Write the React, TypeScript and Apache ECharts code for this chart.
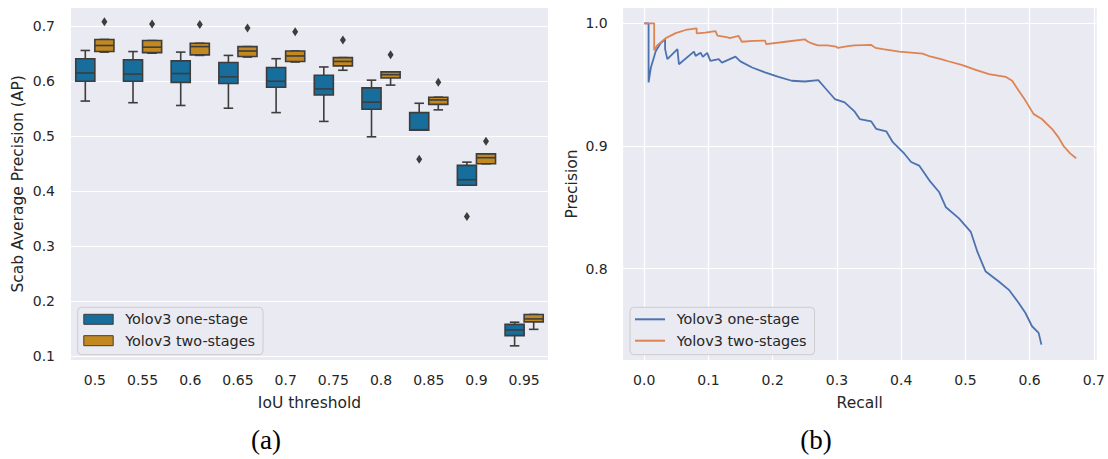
import React, { useEffect, useRef } from "react";
import * as echarts from "echarts";

// ---------- data ----------
const iouThresholds = ["0.5", "0.55", "0.6", "0.65", "0.7", "0.75", "0.8", "0.85", "0.9", "0.95"];

// [min, q1, median, q3, max] per IoU threshold
const oneStageBoxes = [
  [0.564, 0.600, 0.615, 0.641, 0.656],
  [0.561, 0.600, 0.613, 0.639, 0.654],
  [0.556, 0.598, 0.614, 0.637, 0.653],
  [0.551, 0.596, 0.608, 0.634, 0.647],
  [0.543, 0.589, 0.600, 0.625, 0.641],
  [0.527, 0.575, 0.586, 0.611, 0.626],
  [0.499, 0.549, 0.562, 0.588, 0.602],
  [0.511, 0.511, 0.512, 0.543, 0.560],
  [0.411, 0.411, 0.421, 0.447, 0.453],
  [0.119, 0.1375, 0.148, 0.158, 0.162],
];
const twoStageBoxes = [
  [0.653, 0.654, 0.665, 0.676, 0.676],
  [0.651, 0.652, 0.662, 0.674, 0.674],
  [0.647, 0.648, 0.663, 0.669, 0.669],
  [0.644, 0.645, 0.655, 0.663, 0.663],
  [0.635, 0.636, 0.646, 0.655, 0.655],
  [0.620, 0.628, 0.636, 0.643, 0.643],
  [0.593, 0.606, 0.612, 0.617, 0.617],
  [0.548, 0.558, 0.566, 0.571, 0.571],
  [0.450, 0.450, 0.461, 0.468, 0.468],
  [0.149, 0.1625, 0.168, 0.176, 0.176],
];
// [threshold index, AP]
const oneStageOutliers = [
  [7, 0.458],
  [8, 0.354],
];
const twoStageOutliers = [
  [0, 0.708],
  [1, 0.704],
  [2, 0.703],
  [3, 0.697],
  [4, 0.690],
  [5, 0.675],
  [6, 0.648],
  [7, 0.598],
  [8, 0.491],
];

// [recall, precision]
const oneStagePR = [
  [0, 1.0], [0.0068, 1.0], [0.0068, 0.9518], [0.0104, 0.964], [0.018, 0.9775], [0.0258, 0.984],
  [0.0325, 0.987], [0.0325, 0.979], [0.036, 0.9708], [0.0517, 0.979], [0.054, 0.9667],
  [0.0774, 0.977], [0.08, 0.9735], [0.0878, 0.976], [0.0913, 0.9727], [0.098, 0.976],
  [0.103, 0.9694], [0.116, 0.9708], [0.121, 0.968], [0.142, 0.9729], [0.1497, 0.969],
  [0.168, 0.964], [0.188, 0.960], [0.209, 0.9564], [0.2297, 0.9532], [0.25, 0.9526],
  [0.271, 0.9537], [0.281, 0.9477], [0.2967, 0.9383], [0.312, 0.9356], [0.3277, 0.928],
  [0.3355, 0.922], [0.3535, 0.920], [0.361, 0.914], [0.3768, 0.912], [0.387, 0.9031],
  [0.405, 0.8937], [0.4155, 0.8869], [0.428, 0.884], [0.4438, 0.872], [0.459, 0.8625],
  [0.4697, 0.850], [0.49, 0.841], [0.5084, 0.830], [0.5186, 0.8138], [0.526, 0.8044],
  [0.5316, 0.7976], [0.552, 0.7895], [0.5677, 0.7827], [0.583, 0.772], [0.5935, 0.7638],
  [0.6037, 0.753], [0.614, 0.7476], [0.6183, 0.738],
];
const twoStagePR = [
  [0, 1.0], [0.0155, 1.0], [0.0155, 0.978], [0.02, 0.982], [0.027, 0.985], [0.0336, 0.988],
  [0.049, 0.992], [0.0645, 0.9946], [0.0816, 0.996], [0.0816, 0.9919], [0.095, 0.9925],
  [0.111, 0.9937], [0.114, 0.990], [0.13, 0.9885], [0.133, 0.988], [0.147, 0.9897],
  [0.152, 0.985], [0.17, 0.9858], [0.188, 0.986], [0.19, 0.983], [0.22, 0.985],
  [0.25, 0.987], [0.255, 0.985], [0.262, 0.9835], [0.27, 0.982], [0.285, 0.982],
  [0.299, 0.981], [0.301, 0.980], [0.32, 0.9816], [0.3277, 0.982], [0.3535, 0.9824],
  [0.36, 0.980], [0.3715, 0.979], [0.397, 0.977], [0.4334, 0.9753], [0.445, 0.973],
  [0.459, 0.9713], [0.4748, 0.9689], [0.4954, 0.966], [0.516, 0.962], [0.5367, 0.9586],
  [0.5625, 0.9564], [0.5728, 0.9532], [0.5831, 0.945], [0.5935, 0.937], [0.6063, 0.926],
  [0.619, 0.922], [0.6347, 0.914], [0.645, 0.907], [0.6528, 0.900], [0.663, 0.894],
  [0.6724, 0.890],
];

const legendLabels: Record<string, string> = {
  boxOne: "Yolov3 one-stage",
  boxTwo: "Yolov3 two-stages",
  prOne: "Yolov3 one-stage",
  prTwo: "Yolov3 two-stages",
};

// ---------- style ----------
const BG = "#eaeaf2";
const EDGE = "#3d3d3d";
const BOX_BLUE = "#176d9b";
const BOX_ORANGE = "#c38920";
const LINE_BLUE = "#4c72b0";
const LINE_ORANGE = "#dd8452";
const TEXT = "#262626";
const FONT = "DejaVu Sans";

function boxRenderer(side: number, fill: string) {
  return (params: any, api: any) => {
    const idx = api.value(0);
    const band = api.coord([1, 0])[0] - api.coord([0, 0])[0];
    const w = band * 0.4;
    const cx = api.coord([idx, 0])[0] + (side * w) / 2;
    const y = (v: number) => api.coord([idx, v])[1];
    const yMin = y(api.value(1));
    const yQ1 = y(api.value(2));
    const yMed = y(api.value(3));
    const yQ3 = y(api.value(4));
    const yMax = y(api.value(5));
    const ls = { stroke: EDGE, lineWidth: 1.6 };
    return {
      type: "group",
      children: [
        { type: "line", shape: { x1: cx, y1: yQ3, x2: cx, y2: yMax }, style: ls },
        { type: "line", shape: { x1: cx, y1: yQ1, x2: cx, y2: yMin }, style: ls },
        { type: "line", shape: { x1: cx - w / 4, y1: yMax, x2: cx + w / 4, y2: yMax }, style: ls },
        { type: "line", shape: { x1: cx - w / 4, y1: yMin, x2: cx + w / 4, y2: yMin }, style: ls },
        {
          type: "rect",
          shape: { x: cx - w / 2, y: yQ3, width: w, height: yQ1 - yQ3 },
          style: { fill, stroke: EDGE, lineWidth: 1.6 },
        },
        { type: "line", shape: { x1: cx - w / 2, y1: yMed, x2: cx + w / 2, y2: yMed }, style: ls },
      ],
    };
  };
}

function outlierRenderer(side: number) {
  return (params: any, api: any) => {
    const idx = api.value(0);
    const band = api.coord([1, 0])[0] - api.coord([0, 0])[0];
    const w = band * 0.4;
    const p = api.coord([idx, api.value(1)]);
    const cx = p[0] + (side * w) / 2;
    const cy = p[1];
    return {
      type: "polygon",
      shape: { points: [[cx, cy - 4.5], [cx + 3, cy], [cx, cy + 4.5], [cx - 3, cy]] },
      style: { fill: EDGE },
    };
  };
}

export default function App() {
  const ref = useRef<HTMLDivElement>(null);
  useEffect(() => {
    if (!ref.current) return;
    const chart = echarts.init(ref.current, undefined, { renderer: "svg" });
    const fmt1 = (v: number) => v.toFixed(1);
    const axisText = { color: TEXT, fontFamily: FONT, fontSize: 14 };
    const nameText = { color: TEXT, fontFamily: FONT, fontSize: 15.5 };
    const legendText = { color: TEXT, fontFamily: FONT, fontSize: 14.4 };
    const split = { show: true, lineStyle: { color: "#ffffff", width: 1.2 } };

    chart.setOption({
      animation: false,
      backgroundColor: "#ffffff",
      textStyle: { fontFamily: FONT },
      grid: [
        { left: 71, top: 7, width: 477, height: 353.7, backgroundColor: BG, show: true, borderWidth: 0 },
        { left: 622.7, top: 7.3, width: 475, height: 353.4, backgroundColor: BG, show: true, borderWidth: 0 },
      ],
      xAxis: [
        {
          type: "category",
          gridIndex: 0,
          data: iouThresholds,
          axisLine: { show: false },
          axisTick: { show: false },
          splitLine: { show: false },
          axisLabel: { ...axisText, margin: 12 },
          name: "IoU threshold",
          nameLocation: "middle",
          nameGap: 34,
          nameTextStyle: { ...nameText },
        },
        {
          type: "value",
          gridIndex: 1,
          min: -0.0335,
          max: 0.7045,
          minInterval: 0.1,
          maxInterval: 0.1,
          axisLine: { show: false },
          axisTick: { show: false },
          splitLine: split,
          axisLabel: { ...axisText, margin: 12, formatter: fmt1, showMinLabel: false, showMaxLabel: false },
          name: "Recall",
          nameLocation: "middle",
          nameGap: 34,
          nameTextStyle: { ...nameText },
        },
      ],
      yAxis: [
        {
          type: "value",
          gridIndex: 0,
          min: 0.092,
          max: 0.735,
          minInterval: 0.1,
          maxInterval: 0.1,
          axisLine: { show: false },
          axisTick: { show: false },
          splitLine: split,
          axisLabel: { ...axisText, margin: 16, formatter: fmt1, showMinLabel: false, showMaxLabel: false },
          name: "Scab Average Precision (AP)",
          nameLocation: "middle",
          nameRotate: 90,
          nameGap: 45.5,
          nameTextStyle: { ...nameText },
        },
        {
          type: "value",
          gridIndex: 1,
          min: 0.7249,
          max: 1.0131,
          minInterval: 0.1,
          maxInterval: 0.1,
          axisLine: { show: false },
          axisTick: { show: false },
          splitLine: split,
          axisLabel: { ...axisText, margin: 15, formatter: fmt1, showMinLabel: false, showMaxLabel: false },
          name: "Precision",
          nameLocation: "middle",
          nameRotate: 90,
          nameGap: 43,
          nameTextStyle: { ...nameText },
        },
      ],
      legend: [
        {
          left: 77.7,
          top: 307.3,
          orient: "vertical",
          padding: [4, 8, 6, 5.6],
          itemGap: 5.4,
          itemWidth: 29.4,
          itemHeight: 10,
          backgroundColor: BG,
          borderColor: "#cccccc",
          borderWidth: 1,
          borderRadius: 4,
          selectedMode: false,
          formatter: (n: string) => legendLabels[n] || n,
          textStyle: { ...legendText, lineHeight: 16, padding: [0, 0, 0, 7] },
          data: [
            { name: "boxOne", icon: "rect", itemStyle: { color: BOX_BLUE, borderColor: EDGE, borderWidth: 1 } },
            { name: "boxTwo", icon: "rect", itemStyle: { color: BOX_ORANGE, borderColor: EDGE, borderWidth: 1 } },
          ],
        },
        {
          left: 630,
          top: 307.3,
          orient: "vertical",
          padding: [4, 8, 6, 5],
          itemGap: 5.4,
          itemWidth: 30,
          itemHeight: 2,
          backgroundColor: BG,
          borderColor: "#cccccc",
          borderWidth: 1,
          borderRadius: 4,
          selectedMode: false,
          formatter: (n: string) => legendLabels[n] || n,
          textStyle: { ...legendText, lineHeight: 16, padding: [0, 0, 0, 6.7] },
          data: [
            { name: "prOne", icon: "rect", itemStyle: { color: LINE_BLUE, borderWidth: 0 } },
            { name: "prTwo", icon: "rect", itemStyle: { color: LINE_ORANGE, borderWidth: 0 } },
          ],
        },
      ],
      series: [
        {
          name: "boxOne",
          type: "custom",
          xAxisIndex: 0,
          yAxisIndex: 0,
          itemStyle: { color: BOX_BLUE },
          encode: { x: 0, y: [1, 2, 3, 4, 5] },
          renderItem: boxRenderer(-1, BOX_BLUE),
          data: oneStageBoxes.map((b, i) => [i, ...b]),
        },
        {
          name: "boxTwo",
          type: "custom",
          xAxisIndex: 0,
          yAxisIndex: 0,
          itemStyle: { color: BOX_ORANGE },
          encode: { x: 0, y: [1, 2, 3, 4, 5] },
          renderItem: boxRenderer(1, BOX_ORANGE),
          data: twoStageBoxes.map((b, i) => [i, ...b]),
        },
        {
          type: "custom",
          xAxisIndex: 0,
          yAxisIndex: 0,
          encode: { x: 0, y: 1 },
          renderItem: outlierRenderer(-1),
          data: oneStageOutliers,
        },
        {
          type: "custom",
          xAxisIndex: 0,
          yAxisIndex: 0,
          encode: { x: 0, y: 1 },
          renderItem: outlierRenderer(1),
          data: twoStageOutliers,
        },
        {
          name: "prOne",
          type: "line",
          xAxisIndex: 1,
          yAxisIndex: 1,
          showSymbol: false,
          symbol: "none",
          color: LINE_BLUE,
          lineStyle: { color: LINE_BLUE, width: 1.8 },
          data: oneStagePR,
        },
        {
          name: "prTwo",
          type: "line",
          xAxisIndex: 1,
          yAxisIndex: 1,
          showSymbol: false,
          symbol: "none",
          color: LINE_ORANGE,
          lineStyle: { color: LINE_ORANGE, width: 1.8 },
          data: twoStagePR,
        },
      ],
      graphic: [
        {
          type: "text",
          x: 266,
          y: 440,
          style: {
            text: "(a)",
            font: '27px "Liberation Serif"',
            fill: "#000000",
            textAlign: "center",
            textVerticalAlign: "middle",
          },
        },
        {
          type: "text",
          x: 816,
          y: 440,
          style: {
            text: "(b)",
            font: '27px "Liberation Serif"',
            fill: "#000000",
            textAlign: "center",
            textVerticalAlign: "middle",
          },
        },
      ],
    });
    return () => chart.dispose();
  }, []);
  return (
    <div
      ref={ref}
      style={{ position: "fixed", left: 0, top: 0, width: 1108, height: 459, background: "#ffffff" }}
    />
  );
}
